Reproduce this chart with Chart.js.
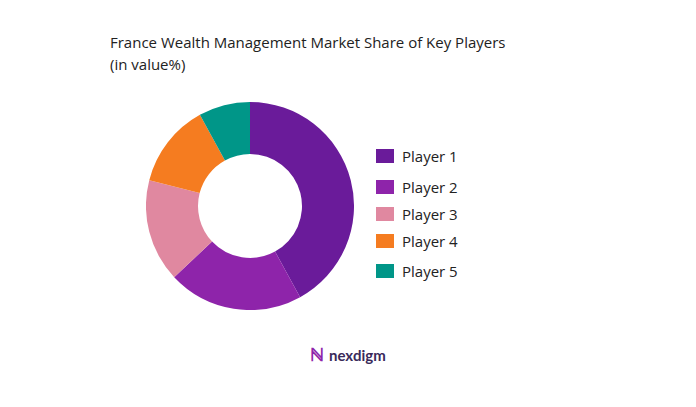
<!DOCTYPE html>
<html><head><meta charset="utf-8">
<script src="https://cdn.jsdelivr.net/npm/chart.js@4"></script>
<style>
body{margin:0;width:696px;height:407px;background:#fff;position:relative;font-family:"Open Sans",sans-serif;overflow:hidden}
#title{position:absolute;left:110px;top:31px;font-size:15px;line-height:22px;color:#222}
#wrap{position:absolute;left:146px;top:102px;width:208px;height:208px}
.leg{position:absolute;left:376px;font-size:15px;color:#222;display:flex;align-items:center}
.leg span{display:inline-block;width:18px;height:14px;margin-right:8px}
#logo{position:absolute;left:310px;top:342px;font-size:15px;font-weight:bold;color:#3a2a5a;font-family:Lato,sans-serif}
#logo b{color:#8e24aa;margin-right:5px;font-size:18px}
</style></head><body>
<div id="title">France Wealth Management Market Share of Key Players<br>(in value%)</div>
<div id="wrap"><canvas id="c" width="208" height="208"></canvas></div>
<div id="logo"><b>ℕ</b>nexdigm</div>
<script>
const labels = ['Player 1', 'Player 2', 'Player 3', 'Player 4', 'Player 5'];
const shares = [42, 21, 16, 13, 8];
const colors = ['#6a1b9a', '#8e24aa', '#e088a0', '#f57c20', '#009688'];
const legendTops = [146, 177, 204, 231, 261];

labels.forEach((l, i) => {
  const d = document.createElement('div');
  d.className = 'leg';
  d.style.top = legendTops[i] + 'px';
  d.innerHTML = '<span style="background:' + colors[i] + '"></span>' + l;
  document.body.appendChild(d);
});

new Chart(document.getElementById('c'), {
  type: 'doughnut',
  data: { labels, datasets: [{ data: shares, backgroundColor: colors, borderWidth: 0 }] },
  options: {
    responsive: false,
    animation: false,
    cutout: '50%',
    plugins: { legend: { display: false }, tooltip: { enabled: false } }
  }
});
</script>
</body></html>
